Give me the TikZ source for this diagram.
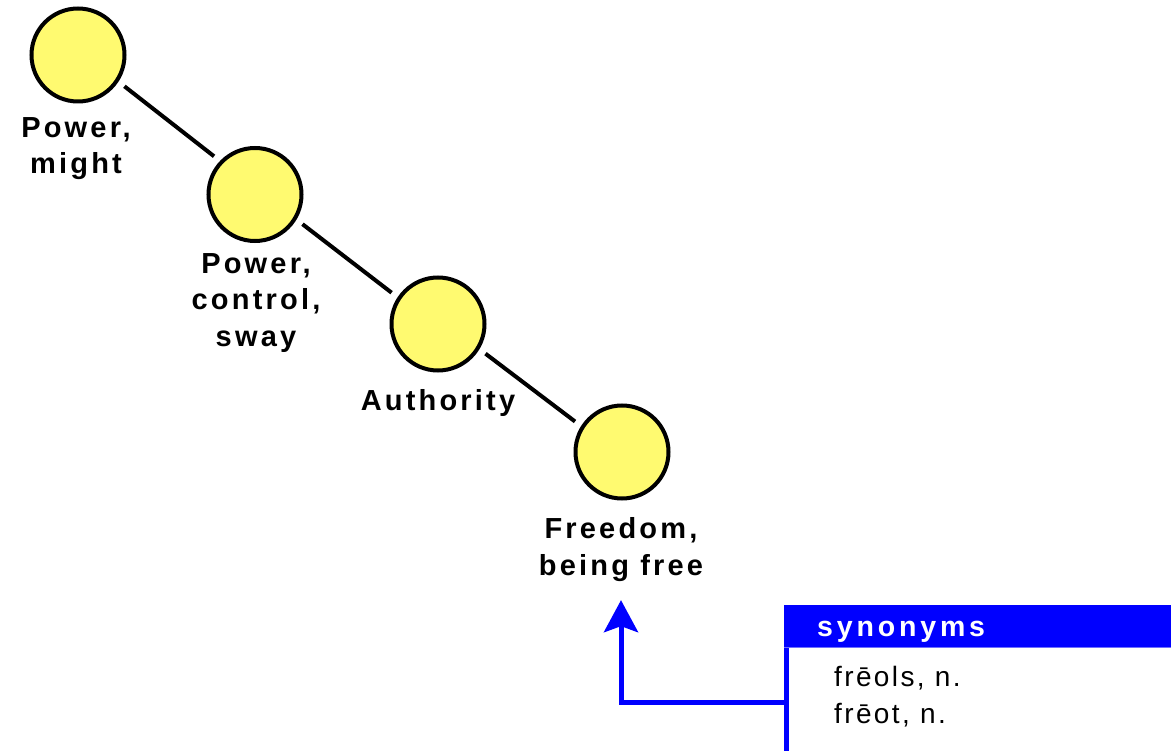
\documentclass[tikz,border=0pt]{standalone}
\usepackage{fontspec}
\setmainfont{Liberation Sans}
\newfontfamily\lblfont[LetterSpace=11]{Liberation Sans}
\newfontfamily\titlefont[LetterSpace=13.5]{Liberation Sans}
\newfontfamily\synfont[LetterSpace=8.5]{Liberation Sans}
\usetikzlibrary{arrows.meta}
\definecolor{nodeyellow}{RGB}{255,250,112}
\definecolor{synblue}{RGB}{0,0,255}
\definecolor{synline}{RGB}{110,110,255}
\begin{document}
\begin{tikzpicture}[x=1pt,y=-1pt,
  concept/.style={circle, draw=black, line width=4pt, fill=nodeyellow,
    minimum size=93pt, inner sep=0pt, outer sep=9.5pt},
  conceptlabel/.style={align=center, inner sep=0pt, outer sep=0pt, anchor=north,
    font=\lblfont\bfseries\fontsize{29pt}{36.5pt}\selectfont},
  link/.style={draw=black, line width=4pt},
  synlink/.style={draw=synblue, line width=5pt,
    -{Stealth[length=32pt,width=34pt,inset=6pt]}},
  boxpart/.style={anchor=north west, inner sep=0pt, outer sep=0pt,
    minimum width=500pt},
]
\useasboundingbox (0,0) rectangle (1171,751);

% concepts
\node[concept] (c1) at (78,55) {};
\node[concept] (c2) at (255,194.5) {};
\node[concept] (c3) at (438,324) {};
\node[concept] (c4) at (622,452) {};

% labels
\node[conceptlabel] (l1) at (76,117.5) {Power,\\might};
\node[conceptlabel] (l2) at (256,253.5) {Power,\\control,\\sway};
\node[conceptlabel] (l3) at (438,389.5) {Authority};
\node[conceptlabel] (l4) at (621,517.5) {Freedom,\\being free};

% connectors
\draw[link] (c1.-34.8) -- (c2.137.5);
\draw[link] (c2.-32.4) -- (c3.146.9);
\draw[link] (c3.-32.3) -- (c4.147.4);

% synonyms box
\node[boxpart, fill=synblue, minimum height=42pt] (synhead) at (784,605) {};
\node[boxpart, fill=white, minimum height=108pt] (synbody) at (786.5,648) {};
\draw[synline, line width=1pt] (synhead.south west) -- (synhead.south east);
\node[anchor=base west, inner sep=0pt, text=white,
  font=\titlefont\bfseries\fontsize{28.5pt}{36pt}\selectfont] (syntitle) at (817,636) {synonyms};
\node[anchor=north west, inner sep=0pt, align=left,
  font=\synfont\fontsize{28pt}{36.5pt}\selectfont] (synitems) at (834,666.5) {frēols, n.\\frēot, n.};

% arrow from box to concept
\draw[synlink, shorten >=19pt] (synbody.west) -| (l4.south);
\draw[synblue, line width=5pt] (synbody.north west) -- (synbody.south west);
\end{tikzpicture}
\end{document}
